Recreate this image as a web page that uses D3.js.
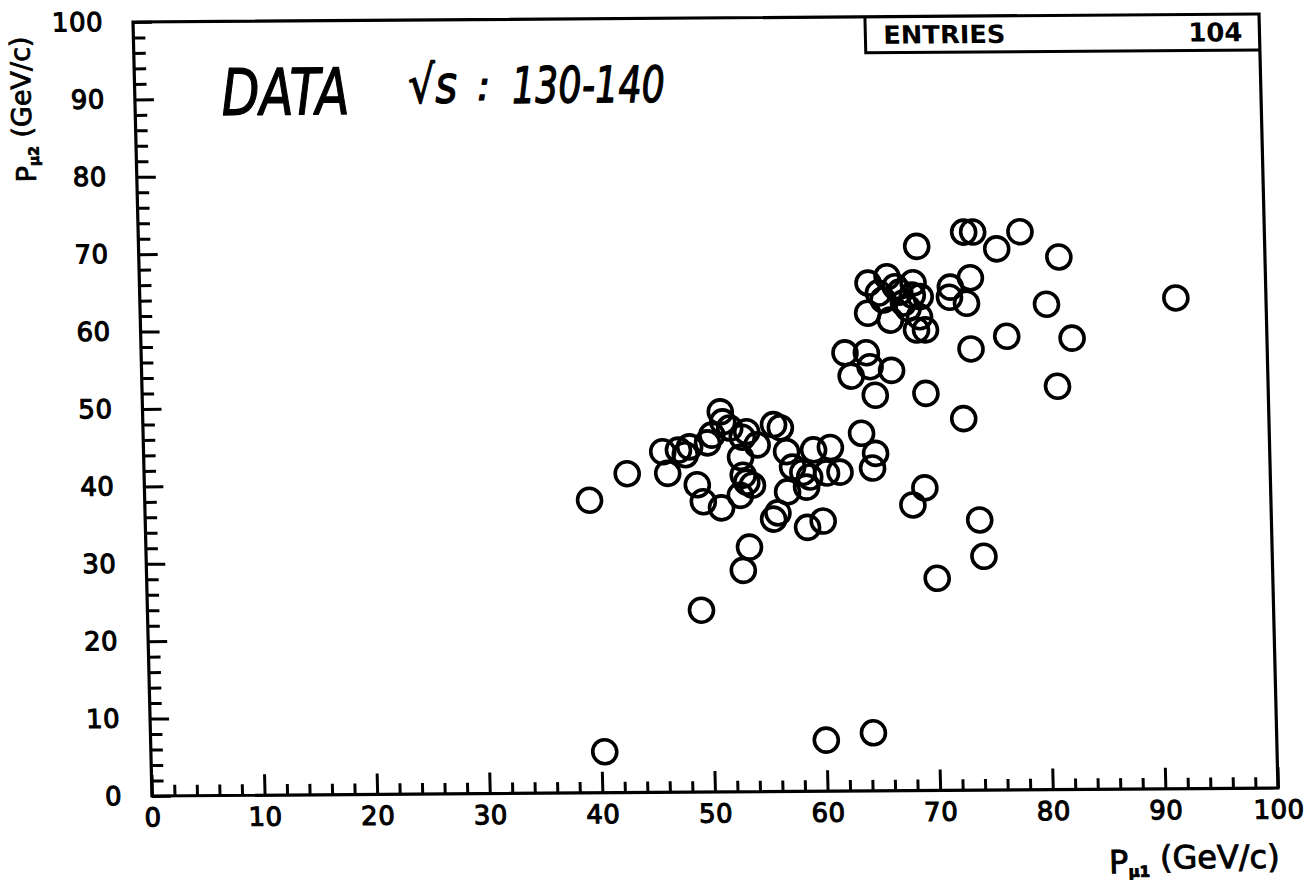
<!DOCTYPE html>
<html>
<head>
<meta charset="utf-8">
<script src="https://cdn.jsdelivr.net/npm/d3@7"></script>
<style>
  html, body { margin: 0; padding: 0; background: #fff; }
  svg { display: block; }
</style>
</head>
<body>
<svg id="chart" width="1316" height="880"></svg>
<script>
// Muon momenta of the selected events: P_mu1 (x) against P_mu2 (y), in GeV/c
const pMu1 = [
  39.5, 42.9, 49.2, 40.3, 60.0, 64.2, 92.0, 68.2, 69.3, 70.2,
  74.4, 74.1, 72.9, 81.3, 82.7, 80.5, 76.9, 73.7, 69.6, 65.1,
  81.7, 78.3, 76.2, 73.3, 74.1, 69.1, 63.8, 55.8, 56.2, 53.6,
  53.0, 58.8, 60.2,
  62.5, 64.4, 63.0, 64.7, 66.6,
  64.7, 66.4, 67.1, 68.7, 69.3, 64.6, 66.6, 66.0, 67.8, 69.2,
  68.9, 69.7, 72.0, 73.8, 71.9, 73.4, 67.5, 68.2, 68.6, 65.6,
  51.3, 51.5, 46.1, 46.5, 47.5, 48.1, 48.5, 50.1, 50.5, 52.1,
  53.2, 53.6, 54.5, 53.0, 49.1, 49.6, 51.2, 52.9, 53.5, 54.0,
  53.2, 56.0, 56.6, 65.0, 64.7, 61.0, 59.5, 57.6, 58.5, 59.1,
  60.6, 61.8, 57.1, 58.8, 57.1
];
const pMu2 = [
  37.8, 41.2, 23.5, 5.3, 6.6, 7.5, 63.4, 36.9, 39.1, 27.4,
  30.2, 34.9, 48.0, 52.1, 58.3, 62.7, 58.6, 57.0, 51.3, 51.1,
  68.8, 72.1, 69.9, 72.1, 72.1, 70.3, 46.2, 35.2, 36.0, 31.6,
  28.6, 34.1, 34.9,
  56.6, 56.6, 53.6, 54.8, 54.3,
  65.6, 66.4, 65.1, 65.6, 63.8, 61.7, 60.8, 63.4, 63.0, 61.2,
  59.5, 59.5, 65.0, 66.2, 63.7, 62.9, 64.4, 62.3, 64.0, 64.3,
  49.1, 47.8, 44.0, 41.2, 44.2, 43.6, 44.6, 45.1, 46.1, 47.0,
  45.8, 46.5, 44.8, 43.2, 39.7, 37.5, 36.7, 38.3, 40.0, 39.6,
  40.9, 47.4, 47.0, 43.6, 41.7, 44.4, 44.1, 41.9, 41.2, 40.6,
  41.1, 41.2, 38.7, 39.3, 43.9
];

// Axis ticks (labelled every 10, minor marks every 2)
const xTickLabels = [0, 10, 20, 30, 40, 50, 60, 70, 80, 90, 100];
const yTickLabels = [0, 10, 20, 30, 40, 50, 60, 70, 80, 90, 100];
const minorTicks = [2, 4, 6, 8, 12, 14, 16, 18, 22, 24, 26, 28, 32, 34, 36, 38,
  42, 44, 46, 48, 52, 54, 56, 58, 62, 64, 66, 68, 72, 74, 76, 78,
  82, 84, 86, 88, 92, 94, 96, 98];

const entriesLabel = "ENTRIES";
const entriesCount = 104;

const W = 1126, H = 774;
const svg = d3.select("#chart");
svg.append("rect").attr("width", 1316).attr("height", 880).attr("fill", "#fff");

// the sheet sits a little askew, so the whole frame is carried by one affine map
const g = svg.append("g")
  .attr("transform", "matrix(1,-0.0071,0.0245,1,133,22)");

const x = d3.scaleLinear().domain([0, 100]).range([0, W]);
const y = d3.scaleLinear().domain([0, 100]).range([H, 0]);

const FONT = "'DejaVu Sans', 'Liberation Sans', sans-serif";

function styleAxis(sel, fontSize) {
  sel.select(".domain").remove();
  sel.selectAll(".tick line").attr("stroke", "#000").attr("stroke-width", 3);
  sel.selectAll(".tick text")
    .attr("fill", "#000")
    .attr("stroke", "#000")
    .attr("stroke-width", 1.1)
    .style("font-family", FONT)
    .style("font-size", fontSize + "px")
    .style("letter-spacing", "0.5px");
}

// x axis: major ticks with labels, minor ticks, all pointing into the frame
g.append("g")
  .attr("transform", `translate(0,${H})`)
  .call(d3.axisBottom(x).tickValues(xTickLabels).tickSize(-21).tickPadding(12)
    .tickFormat(d3.format("d")))
  .call(s => styleAxis(s, 26));
g.append("g")
  .attr("transform", `translate(0,${H})`)
  .call(d3.axisBottom(x).tickValues(minorTicks).tickSize(-11).tickFormat(""))
  .call(s => styleAxis(s, 26));

// y axis
g.append("g")
  .call(d3.axisLeft(y).tickValues(yTickLabels).tickSize(-19).tickPadding(30)
    .tickFormat(d3.format("d")))
  .call(s => styleAxis(s, 26));
g.append("g")
  .call(d3.axisLeft(y).tickValues(minorTicks).tickSize(-12).tickFormat(""))
  .call(s => styleAxis(s, 26));

// frame
g.append("rect")
  .attr("x", x(0)).attr("y", y(100))
  .attr("width", x(100) - x(0)).attr("height", y(0) - y(100))
  .attr("fill", "none").attr("stroke", "#000").attr("stroke-width", 3.2);

// statistics box in the top-right corner
const boxLeft = x(65), boxBottom = 36;
g.append("path")
  .attr("d", `M${boxLeft},${y(100)}V${boxBottom}H${x(100)}`)
  .attr("fill", "none").attr("stroke", "#000").attr("stroke-width", 3);
g.append("text")
  .attr("x", boxLeft + 18).attr("y", 27)
  .attr("textLength", 122).attr("lengthAdjust", "spacingAndGlyphs")
  .style("font-family", FONT).style("font-size", "25px").style("font-weight", "bold")
  .text(entriesLabel);
g.append("text")
  .attr("x", x(100) - 17).attr("y", 27).attr("text-anchor", "end")
  .style("font-family", FONT).style("font-size", "26px").style("font-weight", "bold")
  .text(entriesCount);

// handwritten-style note
const note = g.append("g")
  .attr("fill", "#000").attr("stroke", "#000").attr("stroke-width", 1.3)
  .attr("stroke-linejoin", "round")
  .style("font-family", FONT).style("font-style", "italic");
note.append("text")
  .attr("x", x(7.7)).attr("y", y(87.9))
  .attr("textLength", 128).attr("lengthAdjust", "spacingAndGlyphs")
  .style("font-size", "64px")
  .text("DATA");
note.append("text")
  .attr("x", x(24.3)).attr("y", y(89.3))
  .attr("textLength", 49).attr("lengthAdjust", "spacingAndGlyphs")
  .style("font-size", "52px")
  .text("√s");
note.append("text")
  .attr("x", x(30.4)).attr("y", y(89.6))
  .style("font-size", "40px")
  .text(":");
note.append("text")
  .attr("x", x(33.5)).attr("y", y(89.2))
  .attr("textLength", 153).attr("lengthAdjust", "spacingAndGlyphs")
  .style("font-size", "50px")
  .text("130-140");

// axis titles
const xTitle = g.append("text")
  .attr("x", x(100)).attr("y", H + 84).attr("text-anchor", "end")
  .attr("stroke", "#000").attr("stroke-width", 0.9)
  .style("font-family", FONT).style("font-size", "32px");
xTitle.append("tspan").text("P");
xTitle.append("tspan").attr("dy", "0.25em").style("font-size", "15px").style("font-weight", "bold").text("μ1");
xTitle.append("tspan").attr("dy", "-0.25em").text(" (GeV/c)");

const yTitle = g.append("text")
  .attr("transform", `translate(-101,${y(88.8)}) rotate(-90)`)
  .attr("text-anchor", "middle")
  .attr("stroke", "#000").attr("stroke-width", 0.8)
  .style("font-family", FONT).style("font-size", "27px");
yTitle.append("tspan").text("P");
yTitle.append("tspan").attr("dy", "0.25em").style("font-size", "14px").style("font-weight", "bold").text("μ2");
yTitle.append("tspan").attr("dy", "-0.25em").text(" (GeV/c)");

// events as open circles
const events = pMu1.map((v, i) => ({ p1: v, p2: pMu2[i] }));
g.append("g")
  .selectAll("circle")
  .data(events)
  .join("circle")
  .attr("cx", d => x(d.p1))
  .attr("cy", d => y(d.p2))
  .attr("r", 12)
  .attr("fill", "none")
  .attr("stroke", "#000")
  .attr("stroke-width", 3.6);
</script>
</body>
</html>
